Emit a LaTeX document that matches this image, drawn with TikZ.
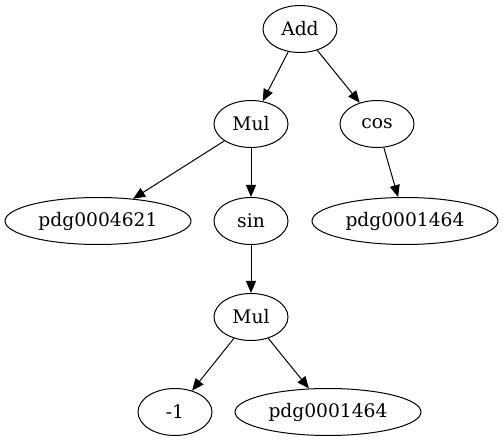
\documentclass[tikz,border=0pt]{standalone}
\usepackage{fontspec}
\setmainfont{DejaVu Serif}
\usetikzlibrary{shapes.geometric,arrows.meta}
\begin{document}
\begin{tikzpicture}[x=1pt,y=-1pt,
  nd/.style={draw,ellipse,line width=1pt,inner sep=0pt,minimum height=47pt,minimum width=74pt,
    font=\fontsize{18.67}{22}\selectfont},
  wide/.style={nd,minimum width=186pt},
  edge/.style={line width=1pt,-{Triangle[length=12pt,width=10pt]}}]
\useasboundingbox (0,0) rectangle (503,443);
\node[nd] (add) at (300,29) {Add};
\node[nd] (mul1) at (251,124) {Mul};
\node[nd] (cos) at (377,124) {cos};
\node[wide] (pdgL) at (98,221) {pdg0004621};
\node[nd] (sin) at (251,221) {sin};
\node[wide] (pdgR) at (405,221) {pdg0001464};
\node[nd] (mul2) at (251,317) {Mul};
\node[nd] (m1) at (175,412) {-1};
\node[wide] (pdgB) at (328,412) {pdg0001464};
\draw[edge] (add) -- (mul1);
\draw[edge] (add) -- (cos);
\draw[edge] (mul1) -- (pdgL);
\draw[edge] (mul1) -- (sin);
\draw[edge] (cos) -- (pdgR);
\draw[edge] (sin) -- (mul2);
\draw[edge] (mul2) -- (m1);
\draw[edge] (mul2) -- (pdgB);
\end{tikzpicture}
\end{document}
